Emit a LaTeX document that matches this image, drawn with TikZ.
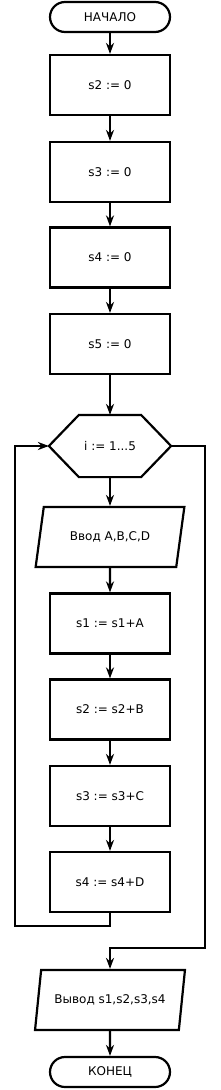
\documentclass[tikz,border=0pt]{standalone}
\usepackage{fontspec}
\setmainfont{DejaVu Sans}
\usetikzlibrary{arrows.meta, shapes.geometric}

\begin{document}
\begin{tikzpicture}[x=1pt, y=1pt,
  line width=2.2pt,
  every node/.style={font=\fontsize{12}{14}\selectfont},
  flow/.style={-{Stealth[length=11pt, width=8pt, inset=3.5pt]}},
  terminal/.style={draw, rounded corners=15pt, minimum width=120pt, minimum height=30pt, inner sep=0pt},
  process/.style={draw, rectangle, minimum width=120pt, minimum height=60pt, inner sep=0pt},
  io/.style={draw, trapezium, trapezium left angle=65, trapezium right angle=115,
    trapezium stretches=true, minimum width=150pt, minimum height=60pt, inner sep=0pt},
  hexa/.style={minimum width=120pt, minimum height=60pt, inner sep=0pt}]
  \useasboundingbox (0,0) rectangle (220,-1090);

  \node[terminal] (start) at (110,-17)    {НАЧАЛО};
  \node[process]  (s2)    at (110,-85)    {s2 := 0};
  \node[process]  (s3)    at (110,-172)   {s3 := 0};
  \node[process]  (s4)    at (110,-257.5) {s4 := 0};
  \node[process]  (s5)    at (110,-344)   {s5 := 0};
  \node[hexa]     (loop)  at (110,-446)   {i := 1...5};
  \node[io]       (input) at (110,-537)   {Ввод A,B,C,D};
  \node[process]  (a1)    at (110,-623.5) {s1 := s1+A};
  \node[process]  (a2)    at (110,-709.5) {s2 := s2+B};
  \node[process]  (a3)    at (110,-796)   {s3 := s3+C};
  \node[process]  (a4)    at (110,-882)   {s4 := s4+D};
  \node[io]       (output) at (110,-1000) {Вывод s1,s2,s3,s4};
  \node[terminal] (stop)  at (110,-1072)  {КОНЕЦ};

  \draw (loop.west) -- ([xshift=30pt]loop.north west) -- ([xshift=-30pt]loop.north east)
        -- (loop.east) -- ([xshift=-30pt]loop.south east) -- ([xshift=30pt]loop.south west)
        -- cycle;

  \coordinate (back) at (15,-926);
  \coordinate (exit) at (205,-948);

  \draw[flow] (start) -- (s2);
  \draw[flow] (s2) -- (s3);
  \draw[flow] (s3) -- (s4);
  \draw[flow] (s4) -- (s5);
  \draw[flow] (s5) -- (loop);
  \draw[flow] (loop) -- (input);
  \draw[flow] (input) -- (a1);
  \draw[flow] (a1) -- (a2);
  \draw[flow] (a2) -- (a3);
  \draw[flow] (a3) -- (a4);
  \draw[flow] (a4.south) |- (back) |- (loop.west);
  \draw[flow] (loop.east) -| (exit) -| (output.north);
  \draw[flow] (output) -- (stop);
\end{tikzpicture}
\end{document}
